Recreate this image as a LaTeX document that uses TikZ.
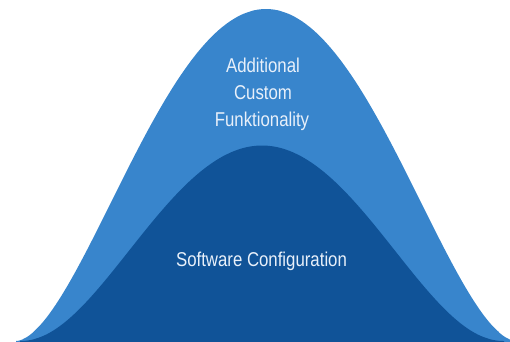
\documentclass[tikz,border=0pt]{standalone}
\usepackage{fontspec}
\setmainfont[FakeStretch=0.84]{Liberation Sans}
\definecolor{bellLight}{RGB}{56,133,204}
\definecolor{bellDark}{RGB}{16,83,152}
\definecolor{labelText}{RGB}{232,240,250}
\begin{document}
\begin{tikzpicture}[x=1pt,y=-1pt,
  lbl/.style={text=labelText,font=\fontsize{20}{26.7}\selectfont,inner sep=0pt,anchor=base}]
\useasboundingbox (0,0) rectangle (510,341);
\clip (0,0) rectangle (510,341);
% outer bell (centre 266, half base 250)
\fill[bellLight] (16,345) -- plot[domain=-250:250,samples=251,smooth]
  ({266+\x},{341-332*(max(1-(\x/250)^2,0.00001))^1.8}) -- (516,345) -- cycle;
% inner bell (centre 262, half base 242)
\fill[bellDark] (20,345) -- plot[domain=-242:242,samples=243,smooth]
  ({262+\x},{341-195.5*(max(1-(\x/242)^2,0.00001))^2.15}) -- (504,345) -- cycle;
\node[lbl] (l1) at (263,72.7) {Additional};
\node[lbl] (l2) at (263,99.7) {Custom};
\node[lbl] (l3) at (262,126.2) {Funktionality};
\node[lbl] (sw) at (261.5,266.7) {Software Configuration};
\end{tikzpicture}
\end{document}
